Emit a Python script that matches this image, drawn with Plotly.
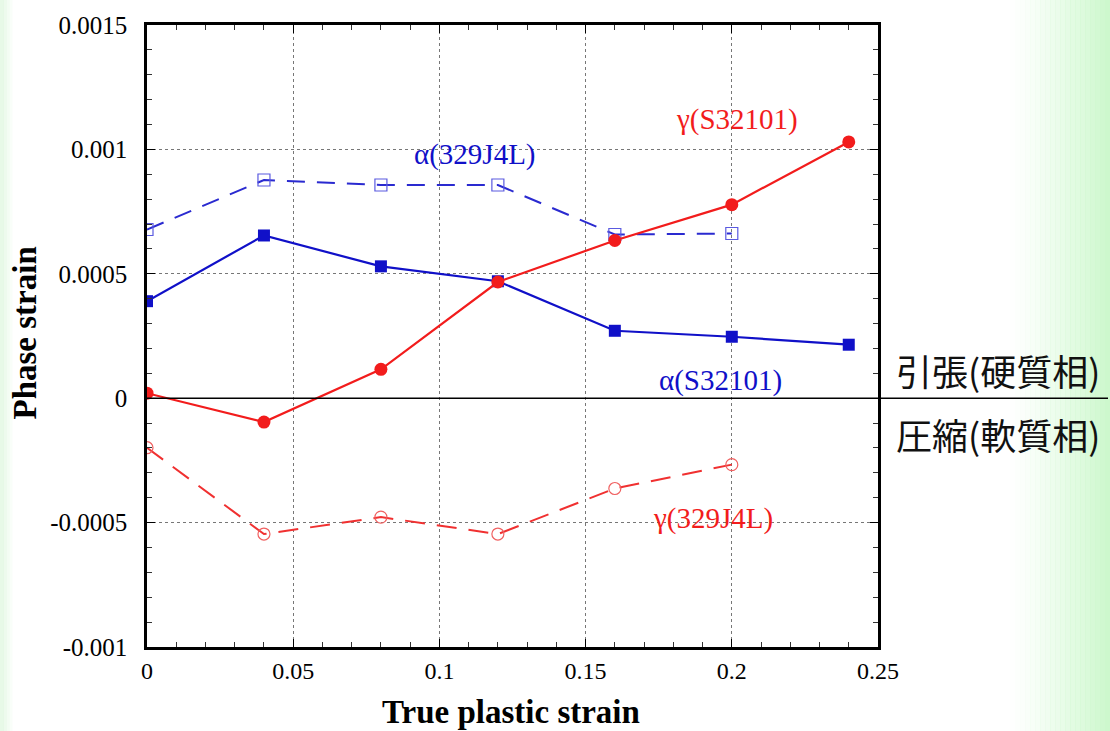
import plotly.graph_objects as go

# ---- data ----
strain_full = [0, 0.04, 0.08, 0.12, 0.16, 0.2, 0.24]
strain_short = [0, 0.04, 0.08, 0.12, 0.16, 0.2]

gamma_s32101 = [0.00002, -0.000096, 0.000116, 0.000467, 0.000634, 0.000778, 0.00103]
alpha_s32101 = [0.00039, 0.000654, 0.00053, 0.00047, 0.000271, 0.000247, 0.000215]
alpha_329j4l = [0.000678, 0.000877, 0.000857, 0.000857, 0.000658, 0.000662]
gamma_329j4l = [-0.000199, -0.000546, -0.000478, -0.000546, -0.000363, -0.000267]

x_tickvals = [0, 0.05, 0.1, 0.15, 0.2, 0.25]
x_ticktext = ["0", "0.05", "0.1", "0.15", "0.2", "0.25"]
y_tickvals = [-0.001, -0.0005, 0, 0.0005, 0.001, 0.0015]
y_ticktext = ["-0.001", "-0.0005", "0", "0.0005", "0.001", "0.0015"]

RED = "#f21c1c"
BLUE = "#1010c8"
SERIF = "Liberation Serif"

fig = go.Figure()

fig.add_trace(go.Scatter(x=strain_short, y=alpha_329j4l, mode="lines+markers",
                         line=dict(color="#2a2ad0", width=2, dash="18px,12px"),
                         marker=dict(symbol="square-open", size=12, color="#5a5ae0",
                                     line=dict(width=1.2, color="#5a5ae0")),
                         name="α(329J4L)"))
fig.add_trace(go.Scatter(x=strain_short, y=gamma_329j4l, mode="lines+markers",
                         line=dict(color="#f03030", width=2, dash="20px,12px"),
                         marker=dict(symbol="circle-open", size=12, color="#f06060",
                                     line=dict(width=1.2, color="#f06060")),
                         name="γ(329J4L)"))
fig.add_trace(go.Scatter(x=strain_full, y=alpha_s32101, mode="lines+markers",
                         line=dict(color=BLUE, width=2.2),
                         marker=dict(symbol="square", size=12, color=BLUE),
                         name="α(S32101)"))
fig.add_trace(go.Scatter(x=strain_full, y=gamma_s32101, mode="lines+markers",
                         line=dict(color=RED, width=2.2),
                         marker=dict(symbol="circle", size=13, color=RED),
                         name="γ(S32101)"))

# ---- background gradient strips ----
shapes = []
W = 731.0
H = 627.0
def px(p):
    return (p - 147) / W
def py(p):
    return (647 - p) / H
n = 20
for i in range(n):
    x0 = 1010 + i * 5
    op = ((i + 1) / n) ** 1.3
    shapes.append(dict(type="rect", xref="paper", yref="paper",
                       x0=px(x0), x1=px(x0 + 5.5), y0=-0.2, y1=1.1,
                       fillcolor=f"rgba(205,248,205,{op:.3f})", line=dict(width=0),
                       layer="below"))
for i in range(4):
    shapes.append(dict(type="rect", xref="paper", yref="paper",
                       x0=px(i * 3), x1=px(i * 3 + 3.5), y0=-0.2, y1=1.1,
                       fillcolor=f"rgba(215,245,215,{0.6 - i*0.15:.3f})", line=dict(width=0),
                       layer="below"))
# zero line extending to the right
shapes.append(dict(type="line", xref="paper", yref="paper",
                   x0=0, x1=px(1108), y0=0.4, y1=0.4,
                   line=dict(color="black", width=1.6)))

fig.update_layout(
    width=1110, height=731,
    margin=dict(l=147, r=232, t=20, b=84),
    paper_bgcolor="white", plot_bgcolor="white",
    showlegend=False,
    shapes=shapes,
    font=dict(family=SERIF, color="black"),
)

fig.update_xaxes(range=[0, 0.25], tickvals=x_tickvals, ticktext=x_ticktext,
                 showline=True, linecolor="black", linewidth=2.5, mirror="ticks",
                 ticks="inside", ticklen=8, tickcolor="black", tickwidth=1,
                 minor=dict(ticks="inside", ticklen=5, dtick=0.01, tickcolor="#333", showgrid=False),
                 showgrid=True, gridcolor="#777", griddash="dot", gridwidth=1,
                 zeroline=False, tickfont=dict(family=SERIF, size=24, color="black"),
                 ticklabelstandoff=0)
fig.update_yaxes(range=[-0.001, 0.0015], tickvals=y_tickvals, ticktext=y_ticktext,
                 showline=True, linecolor="black", linewidth=2.5, mirror="ticks",
                 ticks="inside", ticklen=8, tickcolor="black", tickwidth=1,
                 minor=dict(ticks="inside", ticklen=5, dtick=0.0001, tickcolor="#333", showgrid=False),
                 showgrid=True, gridcolor="#777", griddash="dot", gridwidth=1,
                 zeroline=False, tickfont=dict(family=SERIF, size=25, color="black"),
                 ticklabelstandoff=12)

ann = [
    dict(x=0.2018, y=0.001121, text="γ(S32101)", color=RED),
    dict(x=0.1121, y=0.000981, text="α(329J4L)", color=BLUE),
    dict(x=0.196, y=0.0000726, text="α(S32101)", color=BLUE),
    dict(x=0.1936, y=-0.000482, text="γ(329J4L)", color=RED),
]
for a in ann:
    fig.add_annotation(x=a["x"], y=a["y"], xref="x", yref="y", text=a["text"],
                       xanchor="center", yanchor="middle",
                       showarrow=False, font=dict(family=SERIF, size=29, color=a["color"]))

fig.add_annotation(x=px(998), y=py(368), xref="paper", yref="paper",
                   text="引張(硬質相)", showarrow=False, xanchor="center", yanchor="middle",
                   font=dict(family="Noto Sans CJK JP", size=36, color="#111"))
fig.add_annotation(x=px(998), y=py(432), xref="paper", yref="paper",
                   text="圧縮(軟質相)", showarrow=False, xanchor="center", yanchor="middle",
                   font=dict(family="Noto Sans CJK JP", size=36, color="#111"))

fig.add_annotation(x=px(511), y=py(713), xref="paper", yref="paper",
                   text="<b>True plastic strain</b>", showarrow=False,
                   xanchor="center", yanchor="middle",
                   font=dict(family=SERIF, size=33, color="black"))
fig.add_annotation(x=px(25), y=py(331), xref="paper", yref="paper",
                   text="<b>Phase strain</b>", showarrow=False, textangle=-90,
                   xanchor="center", yanchor="middle",
                   font=dict(family=SERIF, size=33, color="black"))

fig.write_html("out.html", config={"displayModeBar": False},
               post_script="document.body.style.margin='0';document.body.style.overflow='hidden';")
